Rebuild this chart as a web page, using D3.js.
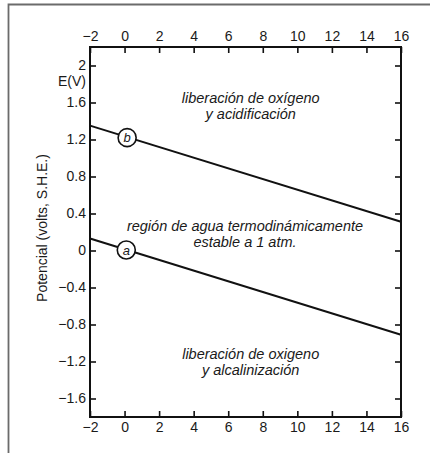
<!DOCTYPE html>
<html>
<head>
<meta charset="utf-8">
<script src="https://cdn.jsdelivr.net/npm/d3@7"></script>
<style>
  html, body { margin: 0; padding: 0; background: #fff; }
  svg { display: block; }
</style>
</head>
<body>
<svg id="chart" width="430" height="453"></svg>
<script>
// Stability limits of water (E vs pH)
const phTicks = [-2, 0, 2, 4, 6, 8, 10, 12, 14, 16];
const eTicks = [-1.6, -1.2, -0.8, -0.4, 0, 0.4, 0.8, 1.2, 1.6, 2];
// line b: O2 / H2O boundary, line a: H+ / H2 boundary (endpoints at pH -2 and 16)
const lineB_pH = [-2, 16];
const lineB_E = [1.35, 0.31];
const lineA_pH = [-2, 16];
const lineA_E = [0.13, -0.91];
const markers = [
  { label: "b", pH: 0.15, E: 1.22 },
  { label: "a", pH: 0.1, E: 0.005 }
];
const regionLabels = [
  { lines: ["liberación de oxígeno", "y acidificación"], pH: 7.3, E: 1.595 },
  { lines: ["región de agua termodinámicamente", "estable a 1 atm."], pH: 6.97, E: 0.21 },
  { lines: ["liberación de oxigeno", "y alcalinización"], pH: 7.3, E: -1.175 }
];

const svg = d3.select("#chart");
const font = "'Liberation Sans', Arial, sans-serif";

// outer frame (left and top edges)
svg.append("path")
  .attr("d", "M8.5,453 V4.5 H430")
  .attr("fill", "none")
  .attr("stroke", "#6b6b6b")
  .attr("stroke-width", 1.8);

const plot = { left: 90, right: 401, top: 47, bottom: 417 };
const x = d3.scaleLinear().domain([-2, 16]).range([plot.left, plot.right]);
const y = d3.scaleLinear().domain([-1.8, 2.2]).range([plot.bottom, plot.top]);

const fmtE = d => d === 0 ? "0" : d3.format("")(d).replace("-", "\u2212");
const fmtPH = d => String(d).replace("-", "\u2212");

const g = svg.append("g");

function styleAxis(sel) {
  sel.select(".domain").remove();
  sel.selectAll(".tick line").attr("stroke", "#111").attr("stroke-width", 1.6);
  sel.selectAll(".tick text")
    .attr("font-family", font)
    .attr("font-size", 14)
    .attr("fill", "#1a1a1a");
}

// bottom axis, ticks pointing inward
g.append("g").attr("transform", `translate(0,${plot.bottom})`)
  .call(d3.axisBottom(x).tickValues(phTicks).tickFormat(fmtPH).tickSizeInner(-6).tickSizeOuter(0).tickPadding(5))
  .call(styleAxis);
// top axis
g.append("g").attr("transform", `translate(0,${plot.top})`)
  .call(d3.axisTop(x).tickValues(phTicks).tickFormat(fmtPH).tickSizeInner(-6).tickSizeOuter(0).tickPadding(6))
  .call(styleAxis);
// left axis
g.append("g").attr("transform", `translate(${plot.left},0)`)
  .call(d3.axisLeft(y).tickValues(eTicks).tickFormat(fmtE).tickSizeInner(-6).tickSizeOuter(0).tickPadding(4))
  .call(styleAxis);
// right axis (ticks only)
g.append("g").attr("transform", `translate(${plot.right},0)`)
  .call(d3.axisRight(y).tickValues(eTicks).tickFormat("").tickSizeInner(-6).tickSizeOuter(0))
  .call(styleAxis);

// plot frame
g.append("rect")
  .attr("x", plot.left).attr("y", plot.top)
  .attr("width", plot.right - plot.left).attr("height", plot.bottom - plot.top)
  .attr("fill", "none").attr("stroke", "#111").attr("stroke-width", 2);

// E(V) unit label
g.append("text")
  .attr("x", plot.left - 4).attr("y", y(1.82))
  .attr("text-anchor", "end").attr("dominant-baseline", "middle")
  .attr("font-family", font).attr("font-size", 14).attr("fill", "#1a1a1a")
  .text("E(V)");

// y axis title
g.append("text")
  .attr("transform", `translate(43,${(plot.top + plot.bottom) / 2 - 4}) rotate(-90)`)
  .attr("text-anchor", "middle").attr("dominant-baseline", "middle")
  .attr("font-family", font).attr("font-size", 14).attr("fill", "#1a1a1a")
  .text("Potencial (volts, S.H.E.)");

// boundary lines
const line = d3.line().x(d => x(d[0])).y(d => y(d[1]));
[[lineB_pH, lineB_E], [lineA_pH, lineA_E]].forEach(([ph, e]) => {
  g.append("path")
    .datum(ph.map((p, i) => [p, e[i]]))
    .attr("d", line)
    .attr("fill", "none")
    .attr("stroke", "#111")
    .attr("stroke-width", 2);
});

// circled line labels
const mk = g.selectAll(".marker").data(markers).enter().append("g")
  .attr("transform", d => `translate(${x(d.pH)},${y(d.E)})`);
mk.append("circle").attr("r", 9).attr("fill", "#fff").attr("stroke", "#111").attr("stroke-width", 1.6);
mk.append("text")
  .attr("text-anchor", "middle").attr("dy", "0.35em")
  .attr("font-family", font).attr("font-style", "italic").attr("font-size", 13).attr("fill", "#1a1a1a")
  .text(d => d.label);

// region labels
regionLabels.forEach(r => {
  const t = g.append("text")
    .attr("x", x(r.pH)).attr("y", y(r.E))
    .attr("text-anchor", "middle")
    .attr("font-family", font).attr("font-style", "italic").attr("font-size", 14.5).attr("fill", "#1a1a1a");
  r.lines.forEach((s, i) => {
    t.append("tspan").attr("x", x(r.pH)).attr("dy", i === 0 ? 0 : 16).text(s);
  });
});
</script>
</body>
</html>
